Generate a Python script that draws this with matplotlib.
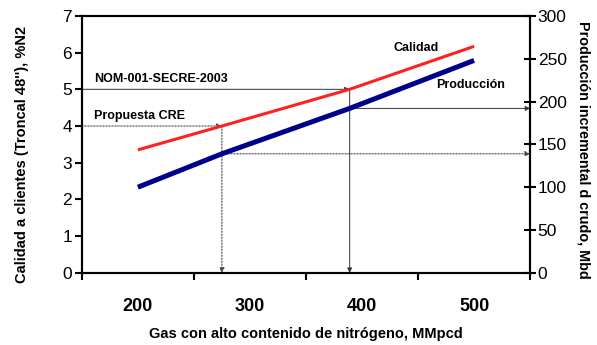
import matplotlib
matplotlib.use("Agg")
import matplotlib.pyplot as plt

plt.rcParams['font.family'] = ['Liberation Sans', 'DejaVu Sans']

# Data
x_gas = [200, 275, 389, 500]
calidad = [3.35, 4.0, 5.0, 6.17]          # %N2 (left axis)
produccion = [100, 139, 192, 248]          # Mbd (right axis)
x_labels = ['200', '300', '400', '500']
x_label_pos = [200, 300, 400, 500]
nom_level = 5.0
cre_level = 4.0
x_nom = 389
x_cre = 275

fig = plt.figure(figsize=(5.97, 3.45), dpi=100)
ax = fig.add_axes([0.137, 0.209, 0.751, 0.745])
ax2 = ax.twinx()

ax.set_xlim(150, 550)
ax.set_ylim(0, 7)
ax2.set_ylim(0, 300)

# arrows / guide lines
arr_solid = dict(arrowstyle='-|>', color='#333333', lw=0.7, mutation_scale=7, shrinkA=0, shrinkB=0)
arr_dot = dict(arrowstyle='-|>', color='#444444', lw=0.8, ls=(0, (1.2, 1.5)), mutation_scale=7, shrinkA=0, shrinkB=0)

ax.annotate('', xy=(x_nom, nom_level), xytext=(150, nom_level), arrowprops=arr_solid)
ax.annotate('', xy=(x_nom, 0), xytext=(x_nom, nom_level), arrowprops=arr_solid)
ax2.annotate('', xy=(550, produccion[2]), xytext=(x_nom, produccion[2]), arrowprops=arr_solid)

ax.annotate('', xy=(x_cre, cre_level), xytext=(150, cre_level), arrowprops=arr_dot)
ax.annotate('', xy=(x_cre, 0), xytext=(x_cre, cre_level), arrowprops=arr_dot)
ax2.annotate('', xy=(550, produccion[1]), xytext=(x_cre, produccion[1]), arrowprops=arr_dot)

ax.plot(x_gas, calidad, color='#ff2020', lw=2.2, solid_capstyle='butt', zorder=5)
ax2.plot(x_gas, produccion, color='#00008b', lw=3.6, solid_capstyle='butt', zorder=5)

# texts
fs_ann = 9
ax.text(161, 5.12, 'NOM-001-SECRE-2003', fontsize=fs_ann, fontweight='bold', va='bottom', ha='left')
ax.text(161, 4.12, 'Propuesta CRE', fontsize=fs_ann, fontweight='bold', va='bottom', ha='left')
ax.text(448, 6.13, 'Calidad', fontsize=fs_ann, fontweight='bold', va='center', ha='center')
ax.text(497, 5.12, 'Producción', fontsize=fs_ann, fontweight='bold', va='center', ha='center')

# x axis: tick marks at category boundaries, labels at centers
ax.set_xticks([150, 250, 350, 450, 550])
ax.set_xticklabels([])
ax.set_xticks(x_label_pos, minor=True)
ax.set_xticklabels(x_labels, minor=True, fontsize=13, fontweight='bold')
ax.tick_params(axis='x', which='major', direction='out', length=5, width=1.5)
ax.tick_params(axis='x', which='minor', length=0, pad=18)

ax.set_yticks(range(0, 8))
ax.tick_params(axis='y', direction='out', length=5, width=1.5, labelsize=12.5, pad=2)
ax2.set_yticks(range(0, 301, 50))
ax2.tick_params(axis='y', direction='inout', length=9, width=1.5, labelsize=12.5, pad=1)

for a in (ax, ax2):
    for s in a.spines.values():
        s.set_linewidth(1.5)
        s.set_color('black')

ax.set_xlabel('Gas con alto contenido de nitrógeno, MMpcd', fontsize=10.5, fontweight='bold', labelpad=9)
ax.set_ylabel("Calidad a clientes (Troncal 48''), %N2", fontsize=10.5, fontweight='bold', labelpad=24)
ax.yaxis.label.set_y(0.46)
ax2.set_ylabel('Producción incremental d crudo, Mbd', fontsize=10.4, fontweight='bold', rotation=270, labelpad=17)
ax2.yaxis.label.set_y(0.48)

fig.savefig('out.png', dpi=100)
